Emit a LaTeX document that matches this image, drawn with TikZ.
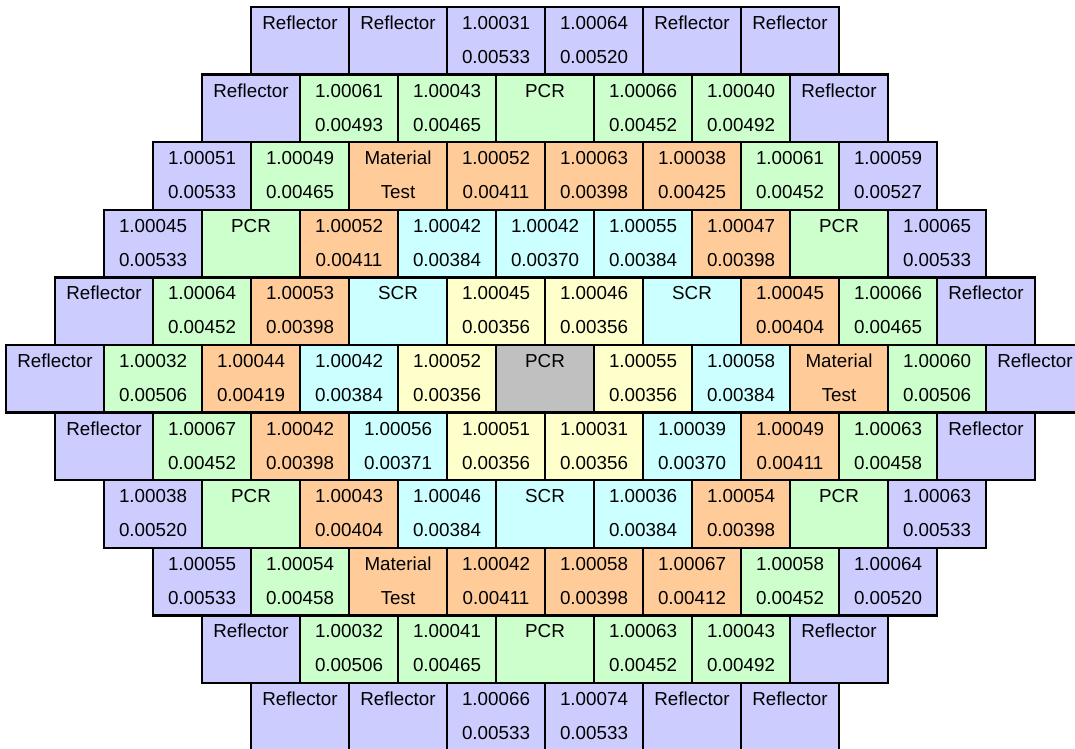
\documentclass[tikz,border=0pt]{standalone}
\usepackage{fontspec}
\setmainfont{Liberation Sans}
\usetikzlibrary{calc}

% assembly types
\definecolor{cL}{HTML}{CCCCFF} % reflector / outer ring
\definecolor{cG}{HTML}{CCFFCC} % PCR ring
\definecolor{cO}{HTML}{FFCC99} % material test ring
\definecolor{cC}{HTML}{CCFFFF} % SCR ring
\definecolor{cY}{HTML}{FFFFCC} % inner fuel
\definecolor{cX}{HTML}{C0C0C0} % central PCR

\tikzset{
  cell/.style={rectangle, draw=black, line width=2.5pt, minimum width=98pt,
    minimum height=67.6pt, inner sep=0pt, outer sep=0pt, anchor=north west},
  txt/.style={anchor=base, inner sep=0pt, text=black,
    font=\fontsize{18.8}{22}\selectfont}
}

% one row of assemblies: #1 row index, #2 left edge, #3 colour/upper/lower list
\newcommand\corerow[3]{%
  \foreach \col/\up/\dn [count=\k from 0] in {#3}{
    \node[cell, fill=c\col] (c#1-\k) at ({#2+98*\k}, {7+67.6*#1}) {};
    \node[txt] (c#1-\k-a) at ($(c#1-\k.north)+(0,22.5)$) {\up};
    \node[txt] (c#1-\k-b) at ($(c#1-\k.north)+(0,56.5)$) {\dn};
  }}

\begin{document}
\begin{tikzpicture}[x=1pt, y=-1pt]
\path[use as bounding box, clip] (0,0) rectangle (1075,748);
\fill[white] (0,0) rectangle (1075,748);

\corerow{0}{251}{L/Reflector/{}, L/Reflector/{}, L/1.00031/0.00533, L/1.00064/0.00520, L/Reflector/{}, L/Reflector/{}}
\corerow{1}{202}{L/Reflector/{}, G/1.00061/0.00493, G/1.00043/0.00465, G/PCR/{}, G/1.00066/0.00452, G/1.00040/0.00492, L/Reflector/{}}
\corerow{2}{153}{L/1.00051/0.00533, G/1.00049/0.00465, O/Material/Test, O/1.00052/0.00411, O/1.00063/0.00398, O/1.00038/0.00425, G/1.00061/0.00452, L/1.00059/0.00527}
\corerow{3}{104}{L/1.00045/0.00533, G/PCR/{}, O/1.00052/0.00411, C/1.00042/0.00384, C/1.00042/0.00370, C/1.00055/0.00384, O/1.00047/0.00398, G/PCR/{}, L/1.00065/0.00533}
\corerow{4}{55}{L/Reflector/{}, G/1.00064/0.00452, O/1.00053/0.00398, C/SCR/{}, Y/1.00045/0.00356, Y/1.00046/0.00356, C/SCR/{}, O/1.00045/0.00404, G/1.00066/0.00465, L/Reflector/{}}
\corerow{5}{6}{L/Reflector/{}, G/1.00032/0.00506, O/1.00044/0.00419, C/1.00042/0.00384, Y/1.00052/0.00356, X/PCR/{}, Y/1.00055/0.00356, C/1.00058/0.00384, O/Material/Test, G/1.00060/0.00506, L/Reflector/{}}
\corerow{6}{55}{L/Reflector/{}, G/1.00067/0.00452, O/1.00042/0.00398, C/1.00056/0.00371, Y/1.00051/0.00356, Y/1.00031/0.00356, C/1.00039/0.00370, O/1.00049/0.00411, G/1.00063/0.00458, L/Reflector/{}}
\corerow{7}{104}{L/1.00038/0.00520, G/PCR/{}, O/1.00043/0.00404, C/1.00046/0.00384, C/SCR/{}, C/1.00036/0.00384, O/1.00054/0.00398, G/PCR/{}, L/1.00063/0.00533}
\corerow{8}{153}{L/1.00055/0.00533, G/1.00054/0.00458, O/Material/Test, O/1.00042/0.00411, O/1.00058/0.00398, O/1.00067/0.00412, G/1.00058/0.00452, L/1.00064/0.00520}
\corerow{9}{202}{L/Reflector/{}, G/1.00032/0.00506, G/1.00041/0.00465, G/PCR/{}, G/1.00063/0.00452, G/1.00043/0.00492, L/Reflector/{}}
\corerow{10}{251}{L/Reflector/{}, L/Reflector/{}, L/1.00066/0.00533, L/1.00074/0.00533, L/Reflector/{}, L/Reflector/{}}
\end{tikzpicture}
\end{document}
